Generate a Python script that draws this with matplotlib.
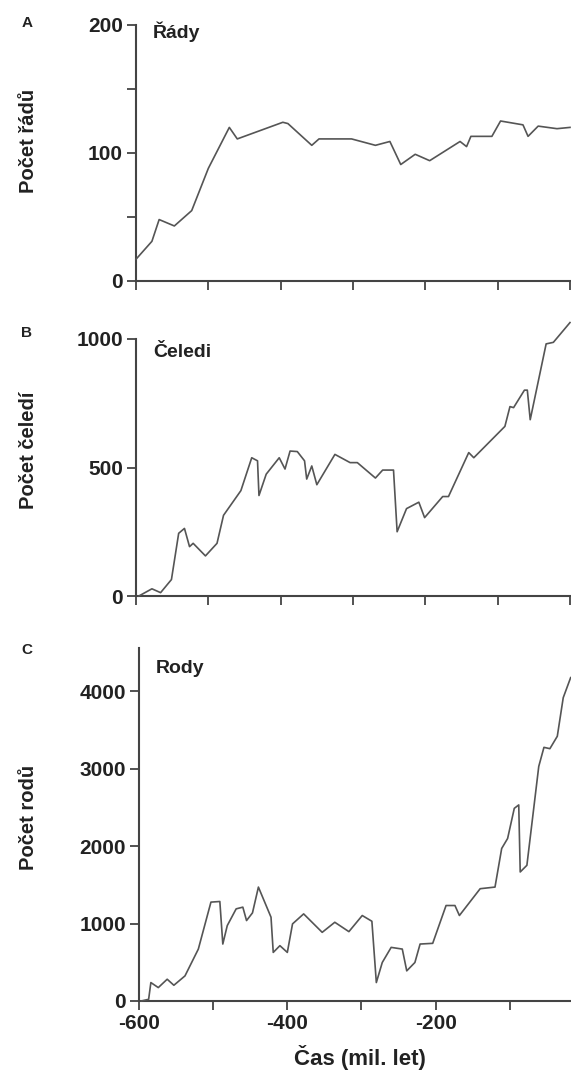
import numpy as np
import matplotlib
matplotlib.use('Agg')
import matplotlib.pyplot as plt

plt.rcParams['font.family'] = ['Liberation Sans', 'DejaVu Sans']
plt.rcParams['font.weight'] = 'bold'

# A - rady
rady_x = [-600, -578, -568, -547, -523, -500, -471, -460, -397, -390, -357, -347, -302,
          -269, -249, -234, -214, -194, -152, -143, -137, -108, -96, -65, -58, -44, -18, 0]
rady_y = [17, 31, 48, 43, 55, 88, 120, 111, 124, 123, 106, 111, 111,
          106, 109, 91, 99, 94, 109, 105, 113, 113, 125, 122, 113, 121, 119, 120]

# B - celedi
celedi_x = [-596, -578, -566, -551, -541, -533, -526, -521, -504, -488, -479, -455, -440,
            -432, -430, -420, -402, -394, -387, -377, -367, -364, -357, -350, -325, -304,
            -294, -269, -259, -244, -239, -226, -209, -201, -176, -168, -140, -133, -90,
            -83, -78, -63, -59, -55, -33, -23, 0]
celedi_y = [0, 28, 13, 64, 244, 263, 192, 205, 156, 205, 314, 410, 538,
            526, 391, 474, 538, 494, 564, 562, 526, 455, 506, 433, 551, 519,
            519, 459, 490, 490, 250, 340, 365, 305, 387, 387, 558, 538, 660,
            737, 733, 801, 801, 686, 981, 987, 1064]

# C - rody
rody_x = [-597, -587, -584, -574, -562, -553, -538, -520, -503, -491, -487, -481, -469,
          -460, -455, -447, -439, -422, -419, -410, -400, -393, -378, -353, -336, -317,
          -299, -286, -280, -272, -260, -245, -239, -228, -221, -204, -186, -174, -168,
          -140, -120, -111, -103, -94, -88, -86, -77, -61, -54, -46, -36, -28, -18]
rody_y = [0, 22, 238, 173, 281, 203, 324, 670, 1276, 1284, 735, 973, 1189,
          1211, 1038, 1137, 1470, 1081, 627, 714, 627, 995, 1124, 886, 1016, 895,
          1103, 1029, 238, 497, 692, 670, 389, 497, 735, 744, 1232, 1232, 1103,
          1449, 1470, 1968, 2097, 2486, 2530, 1665, 1751, 3027, 3273, 3256, 3416, 3914, 4173]

W, H = 571, 1070
fig = plt.figure(figsize=(W / 100, H / 100), dpi=100)

def make_ax(left_px, right_px, top_px, bottom_px):
    return fig.add_axes([left_px / W, 1 - bottom_px / H,
                         (right_px - left_px) / W, (bottom_px - top_px) / H])

line_col = '#555555'
axis_col = '#444444'

panels = [
    # x data, y data, ylim, yticks, minor, axes px (l, r, t, b), title, title baseline, ylabel, ylabel y, letter, letter y
    (rady_x, rady_y, 200, [0, 100, 200], [50, 150], (136, 570, 25, 281), 'Řády', 38, 'Počet řádů', 141, 'A', 23),
    (celedi_x, celedi_y, 1000, [0, 500, 1000], [], (136, 570, 339, 596), 'Čeledi', 357, 'Počet čeledí', 450, 'B', 333),
    (rody_x, rody_y, 4555, [0, 1000, 2000, 3000, 4000], [], (139, 584, 648, 1001), 'Rody', 673, 'Počet rodů', 817, 'C', 650),
]

for i, (xs, ys, ytop, yt, ymin, pos, title, ty, ylab, ly, letter, lety) in enumerate(panels):
    ax = make_ax(*pos)
    ax.plot(xs, ys, color=line_col, lw=1.2, clip_on=False, zorder=3)
    ax.set_xlim(-600, 0)
    ax.set_ylim(0, ytop)
    ax.spines['top'].set_visible(False)
    ax.spines['right'].set_visible(False)
    for s in ['left', 'bottom']:
        ax.spines[s].set_color(axis_col)
        ax.spines[s].set_linewidth(1.5)
    ax.set_yticks(yt)
    ax.set_yticklabels([str(v) for v in yt])
    ax.set_yticks(ymin, minor=True)
    ax.set_xticks(np.arange(-600, 1, 100))
    if i == 2:
        ax.set_xticklabels(['-600', '', '-400', '', '-200', '', ''])
    else:
        ax.set_xticklabels([])
    ax.tick_params(which='both', direction='out', length=6.5, width=1.3, color=axis_col,
                   labelsize=15, labelcolor='#222222', pad=3)
    for lab in ax.get_xticklabels() + ax.get_yticklabels():
        lab.set_fontweight('bold')
    fig.text(pos[0] / W + 17 / W, 1 - ty / H, title, fontsize=14, fontweight='bold',
             color='#222222', ha='left', va='baseline')
    fig.text(29 / W, 1 - ly / H, ylab, rotation=90, fontsize=14.5, fontweight='bold',
             color='#222222', ha='center', va='center')
    fig.text(27 / W, 1 - lety / H, letter, fontsize=11, fontweight='bold',
             color='#222222', ha='center', va='center')

fig.text(360 / W, 1 - 1057 / H, 'Čas (mil. let)', fontsize=16, fontweight='bold',
         color='#222222', ha='center', va='center')

fig.savefig('out.png', dpi=100)
